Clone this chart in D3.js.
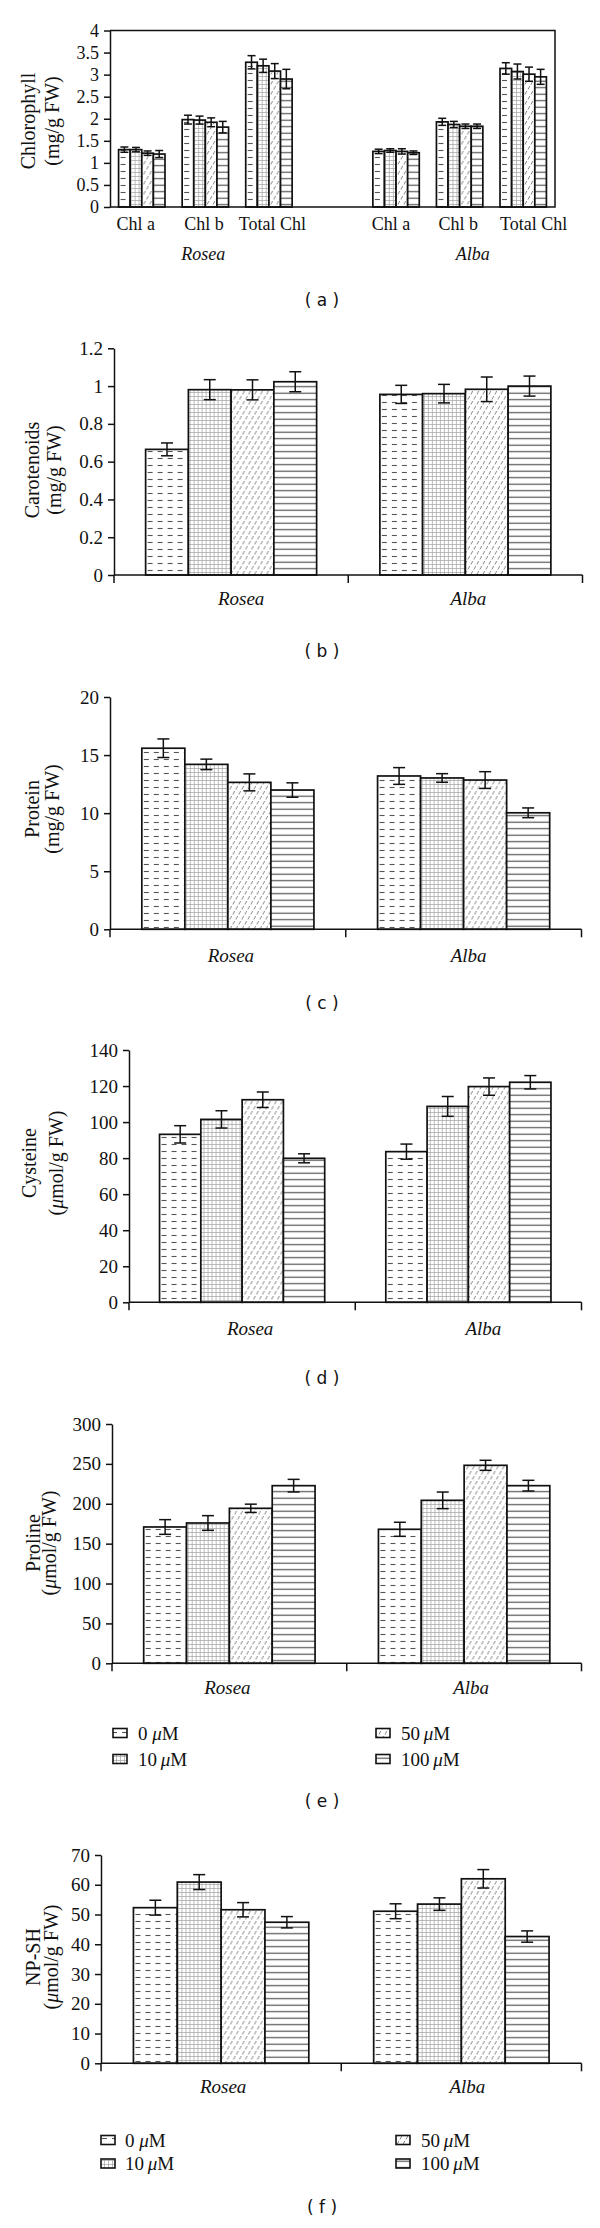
<!DOCTYPE html>
<html><head><meta charset="utf-8">
<script src="https://cdnjs.cloudflare.com/ajax/libs/d3/7.8.5/d3.min.js"></script>
<style>html,body{margin:0;padding:0;background:#fff;}svg{display:block;}</style>
</head><body>
<script>
// ---------- data ----------
const treatments = ["0 μM", "10 μM", "50 μM", "100 μM"];
const cultivars = ["Rosea", "Alba"];
const chlTypes = ["Chl a", "Chl b", "Total Chl"];

// (a) chlorophyll, rows = Chl a, Chl b, Total Chl; columns = treatments
const chlRoseaMean = [[1.30, 1.30, 1.22, 1.20], [1.98, 1.97, 1.92, 1.81], [3.28, 3.20, 3.08, 2.90]];
const chlRoseaErr  = [[0.06, 0.05, 0.05, 0.08], [0.10, 0.09, 0.10, 0.13], [0.15, 0.15, 0.17, 0.22]];
const chlAlbaMean  = [[1.26, 1.28, 1.26, 1.23], [1.93, 1.87, 1.83, 1.83], [3.14, 3.07, 3.01, 2.95]];
const chlAlbaErr   = [[0.05, 0.04, 0.06, 0.04], [0.08, 0.07, 0.05, 0.05], [0.13, 0.17, 0.16, 0.17]];
const chlTicks = [0, 0.5, 1, 1.5, 2, 2.5, 3, 3.5, 4];

// (b) carotenoids
const carotRosea = [0.665, 0.981, 0.980, 1.023];
const carotRoseaErr = [0.034, 0.053, 0.053, 0.053];
const carotAlba = [0.956, 0.960, 0.983, 1.000];
const carotAlbaErr = [0.048, 0.049, 0.065, 0.053];
const carotTicks = [0, 0.2, 0.4, 0.6, 0.8, 1, 1.2];

// (c) protein
const protRosea = [15.59, 14.20, 12.65, 11.99];
const protRoseaErr = [0.80, 0.45, 0.73, 0.62];
const protAlba = [13.20, 13.03, 12.85, 10.03];
const protAlbaErr = [0.72, 0.37, 0.72, 0.42];
const protTicks = [0, 5, 10, 15, 20];

// (d) cysteine
const cysRosea = [93.2, 101.5, 112.4, 79.9];
const cysRoseaErr = [4.8, 4.8, 4.3, 2.5];
const cysAlba = [83.6, 108.7, 119.7, 122.1];
const cysAlbaErr = [4.2, 5.5, 4.8, 3.7];
const cysTicks = [0, 20, 40, 60, 80, 100, 120, 140];

// (e) proline
const proRosea = [170.9, 175.9, 194.3, 222.7];
const proRoseaErr = [9.2, 9.2, 5.2, 7.9];
const proAlba = [168.0, 204.3, 248.2, 222.7];
const proAlbaErr = [8.8, 10.4, 6.3, 6.7];
const proTicks = [0, 50, 100, 150, 200, 250, 300];

// (f) NP-SH
const npRosea = [52.3, 60.9, 51.6, 47.4];
const npRoseaErr = [2.5, 2.5, 2.4, 1.9];
const npAlba = [51.1, 53.5, 62.0, 42.6];
const npAlbaErr = [2.5, 2.1, 3.1, 1.9];
const npTicks = [0, 10, 20, 30, 40, 50, 60, 70];

// ---------- drawing ----------
const SERIF = "'Liberation Serif','Times New Roman',serif";
const svg = d3.select("body").append("svg").attr("width", 600).attr("height", 2228);
svg.append("rect").attr("width", 600).attr("height", 2228).attr("fill", "#fff");

const defs = svg.append("defs");
function pat(id, w, h, build) {
  const p = defs.append("pattern").attr("id", id).attr("patternUnits", "userSpaceOnUse")
    .attr("width", w).attr("height", h);
  p.append("rect").attr("width", w).attr("height", h).attr("fill", "#fff");
  build(p);
}
pat("p0", 10, 7, p => {
  p.append("line").attr("x1", 2).attr("x2", 7).attr("y1", 3.5).attr("y2", 3.5)
    .attr("stroke", "#555").attr("stroke-width", 1.1);
});
pat("p1", 4, 4, p => {
  p.append("path").attr("d", "M0 0.5H4M0.5 0V4").attr("stroke", "#a0a0a0").attr("stroke-width", 0.7).attr("fill", "none");
});
pat("p2", 6, 10, p => {
  p.append("path").attr("d", "M1 4.5L2.8 1M4 9.5L5.8 6").attr("stroke", "#666").attr("stroke-width", 0.8).attr("fill", "none");
});
pat("p3", 7, 6.5, p => {
  p.append("line").attr("x1", 0).attr("x2", 7).attr("y1", 3.2).attr("y2", 3.2)
    .attr("stroke", "#555").attr("stroke-width", 1.2);
});
const fills = d3.scaleOrdinal().domain(treatments).range(["url(#p0)", "url(#p1)", "url(#p2)", "url(#p3)"]);

function panel(cfg) {
  const g = svg.append("g");
  const y = d3.scaleLinear().domain([0, d3.max(cfg.ticks)]).range([cfg.y0, cfg.yTop]);
  const x = d3.scaleBand().domain(cfg.cats).range([cfg.left, cfg.right])
    .paddingInner(0.27).paddingOuter(0.135);
  const xs = d3.scaleBand().domain(treatments).range([0, x.bandwidth()]);

  // bars
  cfg.rows.forEach(r => {
    const gg = g.append("g").attr("transform", `translate(${x(r.cat)},0)`);
    const d = treatments.map((t, i) => ({ t, v: r.mean[i], e: r.err[i] }));
    gg.selectAll("rect").data(d).join("rect")
      .attr("x", k => xs(k.t)).attr("width", xs.bandwidth())
      .attr("y", k => y(k.v)).attr("height", k => y(0) - y(k.v))
      .attr("fill", k => fills(k.t)).attr("stroke", "#111").attr("stroke-width", 1.7);
    const cw = cfg.cap;
    const eb = gg.selectAll("g.eb").data(d).join("g").attr("class", "eb")
      .attr("stroke", "#111").attr("stroke-width", 1.5);
    eb.append("line").attr("x1", k => xs(k.t) + xs.bandwidth() / 2).attr("x2", k => xs(k.t) + xs.bandwidth() / 2)
      .attr("y1", k => y(k.v - k.e)).attr("y2", k => y(k.v + k.e));
    eb.append("line").attr("x1", k => xs(k.t) + xs.bandwidth() / 2 - cw / 2).attr("x2", k => xs(k.t) + xs.bandwidth() / 2 + cw / 2)
      .attr("y1", k => y(k.v + k.e)).attr("y2", k => y(k.v + k.e));
    eb.append("line").attr("x1", k => xs(k.t) + xs.bandwidth() / 2 - cw / 2).attr("x2", k => xs(k.t) + xs.bandwidth() / 2 + cw / 2)
      .attr("y1", k => y(k.v - k.e)).attr("y2", k => y(k.v - k.e));
  });

  // y axis
  const ya = g.append("g").attr("transform", `translate(${cfg.left},0)`)
    .call(d3.axisLeft(y).tickValues(cfg.ticks).tickSize(6).tickPadding(5).tickSizeOuter(0).tickFormat(d => String(d)));
  ya.attr("font-family", SERIF).attr("font-size", cfg.fs);
  ya.selectAll("path,line").attr("stroke", "#111").attr("stroke-width", 1.5);
  ya.selectAll("text").attr("fill", "#111");

  if (cfg.frame) {
    g.append("path").attr("d", `M${cfg.left},${y(d3.max(cfg.ticks))}H${cfg.right}V${y(0)}H${cfg.left}`)
      .attr("fill", "none").attr("stroke", "#111").attr("stroke-width", 1.5);
  } else {
    g.append("line").attr("x1", cfg.left).attr("x2", cfg.right).attr("y1", y(0)).attr("y2", y(0))
      .attr("stroke", "#111").attr("stroke-width", 1.5);
    const step = x.step();
    g.selectAll("line.xt").data(d3.range(cfg.cats.length + 1)).join("line").attr("class", "xt")
      .attr("x1", i => cfg.left + i * step).attr("x2", i => cfg.left + i * step)
      .attr("y1", y(0)).attr("y2", y(0) + 8).attr("stroke", "#111").attr("stroke-width", 1.5);
  }

  // category labels
  if (cfg.catLabels) {
    cfg.catLabels.forEach(c => {
      g.append("text").attr("x", x(c.cat) + c.dx).attr("y", cfg.catY).attr("font-family", SERIF)
        .attr("font-size", cfg.fs).attr("fill", "#111").text(c.label);
    });
  }
  // cultivar labels
  cfg.cultLabels.forEach(c => {
    g.append("text").attr("x", x(c.cat) + x.bandwidth() / 2 + c.dx).attr("y", cfg.cultY)
      .attr("text-anchor", "middle").attr("font-family", SERIF).attr("font-style", "italic")
      .attr("font-size", cfg.fs).attr("fill", "#111").text(c.label);
  });

  // y title
  const yc = cfg.titleY;
  cfg.title.forEach((t, i) => {
    g.append("text").attr("transform", `translate(${cfg.titleX[i]},${yc}) rotate(-90)`)
      .attr("text-anchor", "middle").attr("font-family", SERIF).attr("font-size", 20).attr("fill", "#111")
      .html(t);
  });

  // legend
  if (cfg.legend) {
    const L = cfg.legend;
    treatments.forEach((t, i) => {
      const col = i < 2 ? 0 : 1, row = i % 2;
      const bx = L.bx[col], cy = L.rows[row];
      g.append("rect").attr("x", bx).attr("y", cy - 4.5).attr("width", 14).attr("height", 9)
        .attr("fill", fills(t)).attr("stroke", "#111").attr("stroke-width", 1.6);
      const num = t.split(" ")[0];
      g.append("text").attr("x", L.tx[col]).attr("y", cy + 6.5).attr("font-family", SERIF)
        .attr("font-size", 19).attr("fill", "#111")
        .html(`${num}${num === "0" ? "&#160;" : "&#8201;"}<tspan font-style="italic">μ</tspan>M`);
    });
  }

  // panel letter
  g.append("text").attr("x", 322).attr("y", cfg.letterY).attr("text-anchor", "middle")
    .attr("font-family", "'DejaVu Sans',Verdana,sans-serif").attr("font-size", 17).attr("fill", "#111")
    .attr("xml:space", "preserve").text(`( ${cfg.letter} )`);
}

function simpleRows(rMean, rErr, aMean, aErr) {
  return [{ cat: cultivars[0], mean: rMean, err: rErr }, { cat: cultivars[1], mean: aMean, err: aErr }];
}
const cultLab = (d1, d2) => [{ cat: cultivars[0], label: cultivars[0], dx: d1 }, { cat: cultivars[1], label: cultivars[1], dx: d2 }];

// (a)
const chlCats = [...chlTypes.map(c => "Rosea|" + c), "gap", ...chlTypes.map(c => "Alba|" + c)];
const chlRows = [
  ...chlTypes.map((c, i) => ({ cat: "Rosea|" + c, mean: chlRoseaMean[i], err: chlRoseaErr[i] })),
  ...chlTypes.map((c, i) => ({ cat: "Alba|" + c, mean: chlAlbaMean[i], err: chlAlbaErr[i] }))
];
panel({
  cats: chlCats, rows: chlRows, ticks: chlTicks, left: 110, right: 555, yTop: 30.5, y0: 207, frame: true,
  fs: 18, cap: 8,
  catLabels: [
    { cat: "Rosea|Chl a", label: "Chl a", dx: -2 }, { cat: "Rosea|Chl b", label: "Chl b", dx: 2 },
    { cat: "Rosea|Total Chl", label: "Total Chl", dx: -7 }, { cat: "Alba|Chl a", label: "Chl a", dx: -1 },
    { cat: "Alba|Chl b", label: "Chl b", dx: 2 }, { cat: "Alba|Total Chl", label: "Total Chl", dx: 0 }
  ], catY: 230,
  cultLabels: [{ cat: "Rosea|Chl b", label: "Rosea", dx: -2 }, { cat: "Alba|Chl b", label: "Alba", dx: 13 }], cultY: 260,
  title: ["Chlorophyll", "(mg/g FW)"], titleX: [35, 59], titleY: 121, letter: "a", letterY: 306
});
// (b)
panel({
  cats: cultivars, rows: simpleRows(carotRosea, carotRoseaErr, carotAlba, carotAlbaErr), ticks: carotTicks,
  left: 114, right: 582.5, yTop: 348.3, y0: 575, fs: 19, cap: 12,
  cultLabels: cultLab(10, 3), cultY: 605,
  title: ["Carotenoids", "(mg/g FW)"], titleX: [38.5, 61], titleY: 470, letter: "b", letterY: 657
});
// (c)
panel({
  cats: cultivars, rows: simpleRows(protRosea, protRoseaErr, protAlba, protAlbaErr), ticks: protTicks,
  left: 110, right: 581.5, yTop: 697, y0: 929.3, fs: 19, cap: 12,
  cultLabels: cultLab(3, 5), cultY: 962,
  title: ["Protein", "(mg/g FW)"], titleX: [38.5, 59], titleY: 809, letter: "c", letterY: 1009
});
// (d)
panel({
  cats: cultivars, rows: simpleRows(cysRosea, cysRoseaErr, cysAlba, cysAlbaErr), ticks: cysTicks,
  left: 129, right: 581.5, yTop: 1050, y0: 1302.3, fs: 19, cap: 12,
  cultLabels: cultLab(8, 15), cultY: 1335,
  title: ["Cysteine", "(<tspan font-style='italic'>μ</tspan>mol/g FW)"], titleX: [36, 63], titleY: 1163, letter: "d", letterY: 1384
});
// (e)
panel({
  cats: cultivars, rows: simpleRows(proRosea, proRoseaErr, proAlba, proAlbaErr), ticks: proTicks,
  left: 112, right: 581.5, yTop: 1424, y0: 1663.3, fs: 19, cap: 12,
  cultLabels: cultLab(-2, 7), cultY: 1694,
  title: ["Proline", "(<tspan font-style='italic'>μ</tspan>mol/g FW)"], titleX: [40, 56], titleY: 1543, letter: "e", letterY: 1807,
  legend: { bx: [113, 376], tx: [138, 401], rows: [1733, 1759] }
});
// (f)
panel({
  cats: cultivars, rows: simpleRows(npRosea, npRoseaErr, npAlba, npAlbaErr), ticks: npTicks,
  left: 101, right: 581.5, yTop: 1855, y0: 2063.3, fs: 19, cap: 12,
  cultLabels: cultLab(2, 6), cultY: 2093,
  title: ["NP-SH", "(<tspan font-style='italic'>μ</tspan>mol/g FW)"], titleX: [40, 57.5], titleY: 1957, letter: "f", letterY: 2213,
  legend: { bx: [101, 396], tx: [125, 421], rows: [2140, 2163.5] }
});
</script>
</body></html>
